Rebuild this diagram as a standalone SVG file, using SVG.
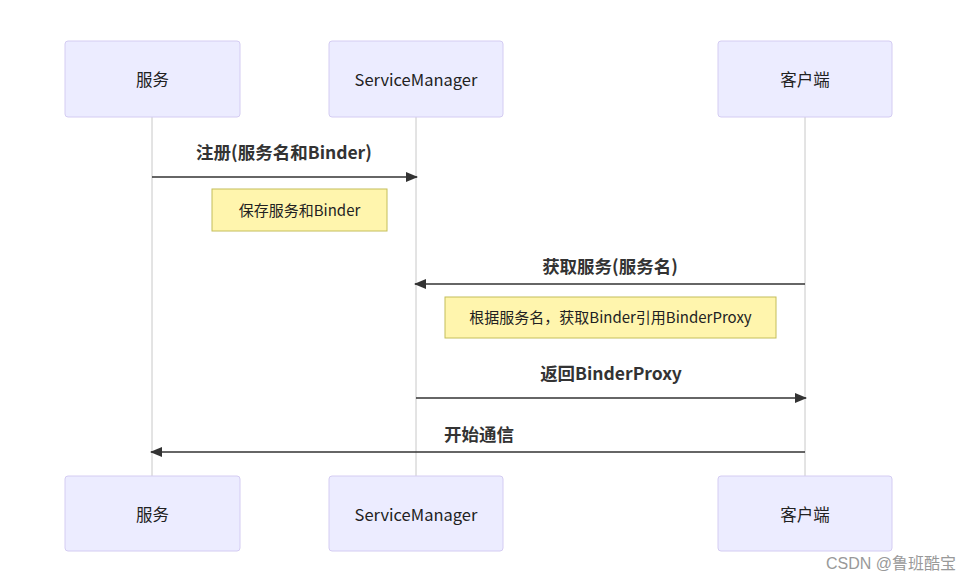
<svg xmlns="http://www.w3.org/2000/svg" width="978" height="580" viewBox="0 0 978 580">
<defs>
<style>
.actor{fill:#ECECFF;stroke:#d4ccf2;stroke-width:1}
.atext{font-family:"Noto Sans CJK SC","Noto Sans",sans-serif;font-size:16.5px;fill:#222;text-anchor:middle;dominant-baseline:central}
.life{stroke:#c8c8c8;stroke-width:1}
.msg{stroke:#333;stroke-width:1.6;fill:none}
.mtext{font-family:"Noto Sans CJK SC","Noto Sans",sans-serif;font-size:17.5px;font-weight:bold;fill:#333;text-anchor:middle;dominant-baseline:central}
.note{fill:#fff5ad;stroke:#c4be5a;stroke-width:1}
.ntext{font-family:"Noto Sans CJK SC","Noto Sans",sans-serif;font-size:15px;fill:#222;text-anchor:middle;dominant-baseline:central}
.wm{font-family:"Liberation Sans","Noto Sans CJK SC",sans-serif;font-size:16px;fill:#999}
</style>
<marker id="arr" viewBox="0 0 12 10" refX="11" refY="5" markerWidth="12" markerHeight="10" markerUnits="userSpaceOnUse" orient="auto">
<path d="M0,0 L12,5 L0,10 Z" fill="#333"/>
</marker>
</defs>
<rect width="978" height="580" fill="#fff"/>
<g id="lifelines">
<line class="life" x1="152" y1="117" x2="152" y2="476"/>
<line class="life" x1="416" y1="117" x2="416" y2="476"/>
<line class="life" x1="805" y1="117" x2="805" y2="476"/>
</g>
<g id="actor-service-top"><rect class="actor" x="65" y="41" width="175" height="76" rx="3"/><text class="atext" x="152.5" y="79">服务</text></g>
<g id="actor-sm-top"><rect class="actor" x="329" y="41" width="174" height="76" rx="3"/><text class="atext" x="416" y="79">ServiceManager</text></g>
<g id="actor-client-top"><rect class="actor" x="718" y="41" width="174" height="76" rx="3"/><text class="atext" x="805" y="79">客户端</text></g>
<g id="actor-service-bottom"><rect class="actor" x="65" y="476" width="175" height="75" rx="3"/><text class="atext" x="152.5" y="514">服务</text></g>
<g id="actor-sm-bottom"><rect class="actor" x="329" y="476" width="174" height="75" rx="3"/><text class="atext" x="416" y="514">ServiceManager</text></g>
<g id="actor-client-bottom"><rect class="actor" x="718" y="476" width="174" height="75" rx="3"/><text class="atext" x="805" y="514">客户端</text></g>
<g id="connectors">
<line class="msg" x1="152" y1="177" x2="417" y2="177" marker-end="url(#arr)"/>
<line class="msg" x1="805" y1="284" x2="415" y2="284" marker-end="url(#arr)"/>
<line class="msg" x1="416" y1="398" x2="806" y2="398" marker-end="url(#arr)"/>
<line class="msg" x1="805" y1="452" x2="151" y2="452" marker-end="url(#arr)"/>
<text class="mtext" x="284" y="151">注册(服务名和Binder)</text>
<text class="mtext" x="610" y="265">获取服务(服务名)</text>
<text class="mtext" x="611" y="372">返回BinderProxy</text>
<text class="mtext" x="479" y="433">开始通信</text>
</g>
<g id="note1"><rect class="note" x="212" y="189" width="175" height="42"/><text class="ntext" x="299.5" y="209">保存服务和Binder</text></g>
<g id="note2"><rect class="note" x="445" y="297" width="331" height="41"/><text class="ntext" x="610.5" y="316">根据服务名，获取Binder引用BinderProxy</text></g>
<text class="wm" x="826" y="569">CSDN @鲁班酷宝</text>
</svg>
